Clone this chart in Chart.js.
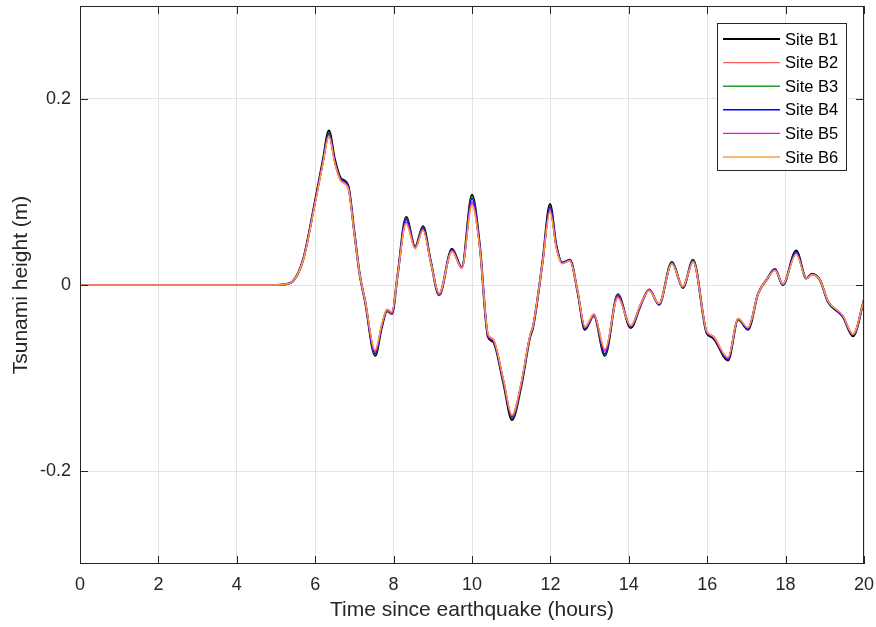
<!DOCTYPE html>
<html>
<head>
<meta charset="utf-8">
<script src="https://cdn.jsdelivr.net/npm/chart.js@4.4.1/dist/chart.umd.min.js"></script>
<style>
  html, body { margin: 0; padding: 0; background: #fff; }
  #wrap { width: 876px; height: 627px; }
</style>
</head>
<body>
<div id="wrap"><canvas id="tsunamiChart"></canvas></div>
<script>
// time since earthquake (hours)
const hours = [0, 5.0, 5.2, 5.43, 5.69, 6.0, 6.2, 6.35, 6.5, 6.65,
  6.84, 7.0, 7.14, 7.27, 7.53, 7.7, 7.83, 7.96, 8.1, 8.32,
  8.55, 8.75, 8.95, 9.16, 9.49, 9.74, 10.0, 10.2, 10.41, 10.54,
  10.8, 11.02, 11.25, 11.48, 11.56, 11.8, 11.99, 12.15, 12.3, 12.5,
  12.7, 12.88, 13.11, 13.39, 13.72, 14.05, 14.3, 14.52, 14.77, 15.1,
  15.38, 15.64, 15.99, 16.15, 16.53, 16.79, 17.04, 17.3, 17.52, 17.73,
  17.93, 18.27, 18.53, 18.67, 18.88, 19.08, 19.46, 19.72, 20.0];

const siteB1 = [0, 0, 0.0005, 0.004, 0.027, 0.091, 0.135, 0.166, 0.135, 0.115,
  0.107, 0.056, 0.010, -0.017, -0.076, -0.045, -0.028, -0.031, 0.010, 0.073,
  0.041, 0.063, 0.025, -0.011, 0.039, 0.019, 0.097, 0.042, -0.056, -0.061,
  -0.105, -0.145, -0.110, -0.056, -0.045, 0.025, 0.087, 0.043, 0.024, 0.027,
  -0.009, -0.048, -0.033, -0.076, -0.010, -0.046, -0.022, -0.005, -0.021, 0.025,
  -0.003, 0.027, -0.052, -0.057, -0.081, -0.037, -0.048, -0.009, 0.006, 0.017,
  0.000, 0.037, 0.007, 0.012, 0.005, -0.018, -0.034, -0.055, -0.016];

const siteB2 = [0, 0, 0.0005, 0.004, 0.026, 0.088, 0.131, 0.160, 0.131, 0.112,
  0.104, 0.054, 0.010, -0.016, -0.071, -0.042, -0.026, -0.029, 0.010, 0.067,
  0.039, 0.059, 0.024, -0.009, 0.036, 0.018, 0.087, 0.039, -0.053, -0.058,
  -0.101, -0.140, -0.106, -0.054, -0.043, 0.024, 0.080, 0.040, 0.023, 0.026,
  -0.008, -0.045, -0.031, -0.070, -0.013, -0.044, -0.021, -0.006, -0.020, 0.023,
  -0.002, 0.025, -0.050, -0.055, -0.078, -0.036, -0.046, -0.009, 0.006, 0.016,
  0.001, 0.034, 0.007, 0.011, 0.005, -0.017, -0.033, -0.053, -0.016];

const siteB3 = [0, 0, 0.0005, 0.004, 0.027, 0.090, 0.133, 0.164, 0.133, 0.114,
  0.106, 0.055, 0.010, -0.017, -0.075, -0.044, -0.028, -0.031, 0.010, 0.072,
  0.041, 0.062, 0.025, -0.011, 0.038, 0.019, 0.095, 0.041, -0.055, -0.060,
  -0.104, -0.143, -0.109, -0.055, -0.044, 0.025, 0.085, 0.042, 0.024, 0.027,
  -0.009, -0.047, -0.033, -0.075, -0.010, -0.045, -0.022, -0.005, -0.021, 0.025,
  -0.003, 0.027, -0.051, -0.056, -0.080, -0.037, -0.047, -0.009, 0.006, 0.017,
  0.000, 0.036, 0.007, 0.012, 0.005, -0.018, -0.034, -0.054, -0.016];

const siteB4 = [0, 0, 0.0005, 0.004, 0.027, 0.090, 0.133, 0.163, 0.133, 0.114,
  0.106, 0.055, 0.010, -0.017, -0.074, -0.044, -0.027, -0.030, 0.010, 0.071,
  0.040, 0.061, 0.025, -0.010, 0.038, 0.019, 0.093, 0.041, -0.055, -0.060,
  -0.103, -0.142, -0.108, -0.055, -0.044, 0.025, 0.084, 0.042, 0.024, 0.027,
  -0.009, -0.047, -0.032, -0.074, -0.011, -0.045, -0.022, -0.005, -0.021, 0.024,
  -0.003, 0.026, -0.051, -0.056, -0.080, -0.037, -0.047, -0.009, 0.006, 0.017,
  0.000, 0.036, 0.007, 0.012, 0.005, -0.018, -0.034, -0.054, -0.016];

const siteB5 = [0, 0, 0.0005, 0.004, 0.027, 0.089, 0.132, 0.161, 0.132, 0.113,
  0.105, 0.055, 0.010, -0.016, -0.072, -0.043, -0.027, -0.030, 0.010, 0.068,
  0.040, 0.060, 0.024, -0.010, 0.037, 0.018, 0.089, 0.040, -0.054, -0.059,
  -0.102, -0.141, -0.107, -0.054, -0.043, 0.024, 0.081, 0.041, 0.023, 0.026,
  -0.008, -0.046, -0.032, -0.071, -0.012, -0.044, -0.021, -0.005, -0.020, 0.023,
  -0.002, 0.025, -0.050, -0.055, -0.079, -0.036, -0.046, -0.009, 0.006, 0.016,
  0.001, 0.034, 0.007, 0.011, 0.005, -0.017, -0.033, -0.053, -0.016];

const siteB6 = [0, 0, 0.0005, 0.004, 0.026, 0.088, 0.131, 0.160, 0.131, 0.112,
  0.104, 0.054, 0.010, -0.016, -0.070, -0.042, -0.026, -0.029, 0.010, 0.066,
  0.039, 0.059, 0.024, -0.009, 0.036, 0.018, 0.086, 0.039, -0.053, -0.058,
  -0.101, -0.140, -0.106, -0.054, -0.043, 0.024, 0.079, 0.040, 0.023, 0.026,
  -0.008, -0.045, -0.031, -0.069, -0.014, -0.044, -0.021, -0.006, -0.020, 0.023,
  -0.002, 0.025, -0.050, -0.055, -0.078, -0.036, -0.046, -0.009, 0.006, 0.016,
  0.001, 0.033, 0.007, 0.011, 0.005, -0.017, -0.033, -0.053, -0.016];

const siteNames = ['Site B1', 'Site B2', 'Site B3', 'Site B4', 'Site B5', 'Site B6'];
const siteColors = ['#000000', '#ff5c5c', '#2a9a2a', '#0000ff', '#ff00ff', '#f7a23c'];
const xTicks = [0, 2, 4, 6, 8, 10, 12, 14, 16, 18, 20];
const yTicks = [-0.2, 0, 0.2];

const allSeries = [siteB1, siteB2, siteB3, siteB4, siteB5, siteB6];
const fontFamily = '"Liberation Sans", Arial, sans-serif';
const axisColor = '#262626';

// box round the axes plus inward tick marks, like matlab
const framePlugin = {
    id: 'frame',
    afterDatasetsDraw(chart) {
        const ctx = chart.ctx;
        const area = chart.chartArea;
        const xs = chart.scales.x;
        const ys = chart.scales.y;
        ctx.save();
        ctx.strokeStyle = axisColor;
        ctx.lineWidth = 1;
        ctx.strokeRect(area.left + 0.5, area.top + 0.5, area.right - area.left - 1, area.bottom - area.top - 1);
        ctx.beginPath();
        xTicks.forEach(function(t) {
            const px = Math.round(xs.getPixelForValue(t)) + 0.5;
            ctx.moveTo(px, area.bottom); ctx.lineTo(px, area.bottom - 8);
            ctx.moveTo(px, area.top); ctx.lineTo(px, area.top + 8);
        });
        yTicks.forEach(function(v) {
            const py = Math.round(ys.getPixelForValue(v)) + 0.5;
            ctx.moveTo(area.left, py); ctx.lineTo(area.left + 8, py);
            ctx.moveTo(area.right, py); ctx.lineTo(area.right - 8, py);
        });
        ctx.stroke();
        ctx.restore();
    }
};

const legendPlugin = {
    id: 'boxLegend',
    afterDraw(chart) {
        const ctx = chart.ctx;
        const left = 717, top = 23, w = 129, h = 147;
        ctx.save();
        ctx.fillStyle = '#ffffff';
        ctx.fillRect(left, top, w, h);
        ctx.strokeStyle = axisColor;
        ctx.lineWidth = 1;
        ctx.strokeRect(left + 0.5, top + 0.5, w, h);
        ctx.font = '16.5px ' + fontFamily;
        ctx.textBaseline = 'middle';
        chart.data.datasets.forEach(function(ds, i) {
            const y = top + 16 + i * 23.6;
            ctx.strokeStyle = ds.borderColor;
            ctx.lineWidth = ds.borderWidth;
            ctx.beginPath();
            ctx.moveTo(left + 6, y);
            ctx.lineTo(left + 63, y);
            ctx.stroke();
            ctx.fillStyle = '#000000';
            ctx.fillText(ds.label, left + 68, y + 1);
        });
        ctx.restore();
    }
};

// keep chart.js from reserving room for the end labels
function noEdgePadding(scale) {
    scale.paddingTop = 0;
    scale.paddingBottom = 0;
    scale.paddingLeft = 0;
    scale.paddingRight = 0;
}

const ctx = document.getElementById('tsunamiChart').getContext('2d');
const tsunamiChart = new Chart(ctx, {
    type: 'line',
    data: {
        datasets: allSeries.map(function(vals, i) {
            return {
                label: siteNames[i],
                data: hours.map(function(t, k) { return { x: t, y: vals[k] }; }),
                borderColor: siteColors[i],
                borderWidth: i === 0 ? 2.2 : 1.4,
                pointRadius: 0,
                cubicInterpolationMode: 'monotone',
                fill: false,
                order: 6 - i
            };
        })
    },
    options: {
        responsive: true,
        maintainAspectRatio: false,
        animation: false,
        layout: { padding: { top: 6, right: 12, left: 0, bottom: 0 } },
        plugins: {
            legend: { display: false },
            tooltip: { enabled: false }
        },
        scales: {
            x: {
                type: 'linear',
                min: 0,
                max: 20,
                afterBuildTicks: function(scale) {
                    scale.ticks = xTicks.map(function(v) { return { value: v }; });
                },
                afterFit: function(scale) { scale.height = 63; noEdgePadding(scale); },
                grid: { color: '#e3e3e3', drawTicks: false },
                border: { display: false },
                ticks: {
                    padding: 10,
                    maxRotation: 0,
                    color: axisColor,
                    font: { family: fontFamily, size: 18 }
                },
                title: {
                    display: true,
                    text: 'Time since earthquake (hours)',
                    color: axisColor,
                    font: { family: fontFamily, size: 21 },
                    padding: { top: 0, bottom: 4 }
                }
            },
            y: {
                min: -0.3,
                max: 0.3,
                afterBuildTicks: function(scale) {
                    scale.ticks = yTicks.map(function(v) { return { value: v }; });
                },
                afterFit: function(scale) { scale.width = 80; noEdgePadding(scale); },
                grid: { color: '#e3e3e3', drawTicks: false },
                border: { display: false },
                ticks: {
                    padding: 9,
                    color: axisColor,
                    font: { family: fontFamily, size: 18 },
                    callback: function(value) { return String(value); }
                },
                title: {
                    display: true,
                    text: 'Tsunami height (m)',
                    color: axisColor,
                    font: { family: fontFamily, size: 21 },
                    padding: { top: 9, bottom: 0 }
                }
            }
        }
    },
    plugins: [framePlugin, legendPlugin]
});
</script>
</body>
</html>
